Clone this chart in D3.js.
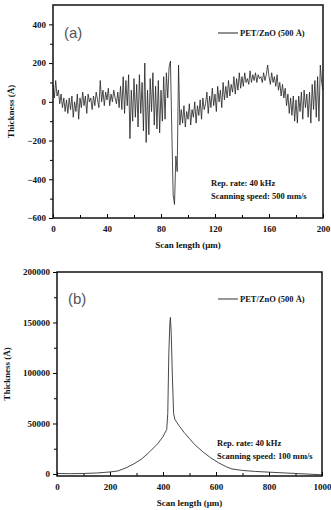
<!DOCTYPE html>
<html>
<head>
<meta charset="utf-8">
<script src="https://cdn.jsdelivr.net/npm/d3@7"></script>
<style>
  body { margin: 0; background: #fff; }
  svg { display: block; }
  text { font-family: "Liberation Serif", "DejaVu Serif", serif; font-weight: bold; fill: #111; }
  .panel-tag { font-family: "Liberation Sans", "DejaVu Sans", sans-serif; font-weight: normal; fill: #555; }
</style>
</head>
<body>
<div id="chart"></div>
<script>
var width = 331;
var height = 510;

// panel (a): thickness profile, one sample per micron (0..200)
var scanA = [
  90, 20, 110, 30, 60, -10, 40, -30, 20, -50,
  10, -60, 20, -40, 30, -80, 0, -50, 40, -90,
  20, -30, 50, -20, 30, -60, 40, 0, 20, -40,
  30, -20, 50, 10, -30, 110, 0, 60, -20, 50,
  10, 70, -20, 40, 0, 60, 20, -10, 50, -30,
  80, -40, 130, -60, 110, -20, 140, -190, 60, -100,
  120, -80, 90, -130, 140, -60, 100, -150, 200, -210,
  60, -170, 120, -50, 150, -120, 80, -140, 110, -160,
  60, -100, 130, -90, 150, 20, 180, 210, -150, -480,
  -530, -280, -360, 190, -120, -40, -110, -20, -130, -50,
  -90, -10, -120, -40, -80, 0, -110, -20, -70, 10,
  -90, 20, -40, -10, 50, -60, 30, -30, 70, -20,
  40, -50, 80, 0, 60, -30, 100, 10, 80, 20,
  110, 30, 90, 50, 130, 40, 120, 60, 150, 70,
  130, 80, 150, 100, 120, 90, 160, 100, 140, 110,
  150, 100, 140, 120, 130, 100, 150, 110, 140, 190,
  130, 90, 150, 100, 130, 80, 140, 60, 100, 30,
  90, 20, 70, -20, 40, -60, 20, -70, 30, -100,
  10, -110, 30, -50, 50, -90, 60, -30, 40, -80,
  50, -110, 90, -40, 110, -80, 130, -100, 190, 100,
  60
];

// panel (b): scan position (um) and thickness (A)
var posB = [0, 50, 100, 150, 200, 230, 260, 290, 320, 350, 380, 400, 414, 418, 422, 426, 428, 431, 435, 440, 445, 460, 480, 500, 520, 550, 580, 610, 640, 660, 700, 750, 800, 900, 1000];
var thickB = [500, 300, 500, 1000, 2000, 3000, 6000, 10000, 15000, 22000, 30000, 37000, 44000, 60000, 120000, 150000, 155000, 140000, 100000, 60000, 54000, 48000, 41000, 35000, 29000, 22000, 16000, 11000, 7000, 5000, 3500, 2500, 1800, 500, -800];

var ticksAx = [0, 40, 80, 120, 160, 200];
var ticksAy = [-600, -400, -200, 0, 200, 400];
var ticksBx = [0, 200, 400, 600, 800, 1000];
var ticksBy = [0, 50000, 100000, 150000, 200000];

var legendLabel = "PET/ZnO (500 Å)";
var notesA = ["Rep. rate: 40 kHz", "Scanning speed: 500 mm/s"];
var notesB = ["Rep. rate: 40 kHz", "Scanning speed: 100 mm/s"];

var svg = d3.select("#chart")
    .append("svg")
    .attr("width", width)
    .attr("height", height);

function drawPanel(opt) {
    var g = svg.append("g");
    var x = d3.scaleLinear().domain(opt.xDomain).range([opt.left, opt.right]);
    var y = d3.scaleLinear().domain(opt.yDomain).range([opt.bottom, opt.top]);

    // minor ticks
    g.append("g")
        .attr("transform", "translate(0," + opt.bottom + ")")
        .call(d3.axisBottom(x).tickValues(opt.xMinor).tickSize(-3).tickFormat(""))
        .call(function(s) { s.select(".domain").remove(); });
    g.append("g")
        .attr("transform", "translate(" + opt.left + ",0)")
        .call(d3.axisLeft(y).tickValues(opt.yMinor).tickSize(3).tickFormat(""))
        .call(function(s) { s.select(".domain").remove(); });

    // major ticks + labels
    var xa = g.append("g")
        .attr("transform", "translate(0," + opt.bottom + ")")
        .call(d3.axisBottom(x).tickValues(opt.xTicks).tickSize(-4).tickPadding(8).tickFormat(d3.format("d")));
    xa.select(".domain").remove();
    xa.selectAll("text").style("font-size", "9px").style("font-family", null);

    var ya = g.append("g")
        .attr("transform", "translate(" + opt.left + ",0)")
        .call(d3.axisLeft(y).tickValues(opt.yTicks).tickSize(4).tickPadding(3).tickFormat(d3.format("d")));
    ya.select(".domain").remove();
    ya.selectAll("text").style("font-size", "9px").style("font-family", null);

    // data line
    g.append("path")
        .datum(opt.data)
        .attr("fill", "none")
        .attr("stroke", opt.color)
        .attr("stroke-width", opt.lw)
        .attr("stroke-linejoin", "round")
        .attr("d", d3.line().x(function(d) { return x(d[0]); }).y(function(d) { return y(d[1]); }));

    // frame
    g.append("rect")
        .attr("x", opt.left).attr("y", opt.top)
        .attr("width", opt.right - opt.left).attr("height", opt.bottom - opt.top)
        .attr("fill", "none").attr("stroke", "#111").attr("stroke-width", 1.5);

    // panel tag
    g.append("text").attr("class", "panel-tag")
        .attr("x", opt.left + 11).attr("y", opt.legendY + 5)
        .style("font-size", "15px").text(opt.tag);

    // legend
    g.append("line")
        .attr("x1", 218).attr("x2", 238)
        .attr("y1", opt.legendY).attr("y2", opt.legendY)
        .attr("stroke", opt.color).attr("stroke-width", 1);
    g.append("text").attr("x", 240).attr("y", opt.legendY + 3)
        .style("font-size", "8.5px").text(legendLabel);

    // notes
    g.selectAll(".note").data(opt.notes).enter().append("text")
        .attr("x", opt.noteX)
        .attr("y", function(d, i) { return opt.noteY + i * 13; })
        .style("font-size", "8.5px").text(function(d) { return d; });

    // axis titles
    g.append("text")
        .attr("x", (opt.left + opt.right) / 2).attr("y", opt.xTitleY)
        .attr("text-anchor", "middle").style("font-size", "9px")
        .text("Scan length (μm)");
    g.append("text")
        .attr("transform", "translate(" + opt.yTitleX + "," + (opt.top + opt.bottom) / 2 + ") rotate(-90)")
        .attr("text-anchor", "middle").style("font-size", "9px")
        .text("Thickness (Å)");
}

drawPanel({
    left: 53, right: 323, top: 5, bottom: 218,
    xDomain: [0, 200], yDomain: [-600, 500],
    xTicks: ticksAx, yTicks: ticksAy,
    xMinor: d3.range(20, 200, 40), yMinor: d3.range(-500, 500, 200),
    data: scanA.map(function(v, i) { return [i, v]; }),
    color: "#222", lw: 0.8,
    tag: "(a)", legendY: 33,
    notes: notesA, noteX: 211, noteY: 186,
    xTitleY: 248, yTitleX: 14
});

drawPanel({
    left: 57, right: 322, top: 272, bottom: 476,
    xDomain: [0, 1000], yDomain: [-2000, 200000],
    xTicks: ticksBx, yTicks: ticksBy,
    xMinor: d3.range(100, 1000, 200), yMinor: d3.range(25000, 200000, 50000),
    data: posB.map(function(v, i) { return [v, thickB[i]]; }),
    color: "#333", lw: 0.9,
    tag: "(b)", legendY: 299,
    notes: notesB, noteX: 217, noteY: 446,
    xTitleY: 506, yTitleX: 10
});
</script>
</body>
</html>
